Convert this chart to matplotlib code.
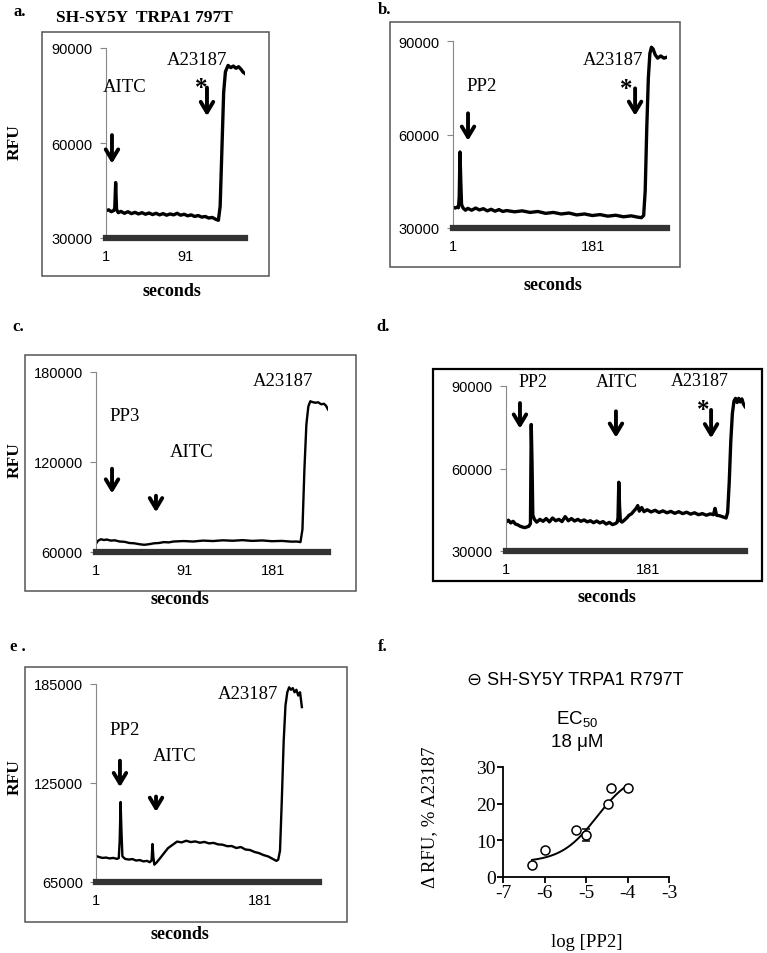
import numpy as np
import matplotlib
matplotlib.use("Agg")
from matplotlib import pyplot as plt
from matplotlib.patches import Rectangle

plt.rcParams['font.family'] = ['Liberation Serif', 'DejaVu Serif']
plt.rcParams['axes.unicode_minus'] = False

W, H = 767, 954

# ---- data (seconds, RFU) ----
a_time = [1, 4, 7, 10, 11, 12, 13, 15, 18, 22, 26, 30, 34, 38, 42, 46, 50, 54, 58, 62, 66, 70, 74,
          78, 82, 86, 90, 94, 98, 102, 106, 110, 114, 118, 122, 126, 129, 131, 133, 135, 137, 140,
          143, 146, 149, 152, 155, 157, 159]
a_rfu = [38600, 38900, 38300, 38700, 39500, 47500, 39000, 38000, 38400, 37800, 38300, 37700, 38100,
         37600, 38000, 37500, 37900, 37400, 37800, 37300, 37700, 37200, 37600, 37300, 37800, 37200,
         37500, 37000, 37300, 36800, 37100, 36600, 36800, 36300, 36500, 35900, 35600, 40000, 58000,
         76000, 82500, 84500, 83800, 84300, 83600, 84100, 83200, 82400, 82000]

b_time = [1, 4, 7, 8, 9, 10, 11, 12, 14, 17, 20, 25, 30, 35, 40, 45, 50, 55, 60, 65, 70, 80, 90, 100,
          110, 120, 130, 140, 150, 160, 170, 180, 190, 200, 210, 220, 230, 238, 243, 246, 248, 250,
          252, 254, 256, 258, 261, 264, 268, 272, 276]
b_rfu = [36700, 36400, 36800, 36500, 40000, 54400, 45000, 37500, 36400, 35700, 36300, 35700, 36400,
         35800, 36200, 35500, 36000, 35400, 35900, 35300, 35600, 35200, 35500, 35000, 35300, 34700,
         35000, 34500, 34800, 34200, 34500, 34000, 34300, 33800, 34100, 33600, 33900, 33500, 33300,
         34000, 42000, 62000, 78000, 86000, 88000, 87500, 85500, 84500, 85200, 84500, 84800]

c_time = [1, 3, 6, 9, 12, 16, 20, 25, 30, 35, 40, 45, 50, 55, 60, 65, 70, 75, 80, 90, 100, 110, 120,
          130, 140, 150, 160, 170, 180, 190, 200, 205, 209, 211, 213, 215, 217, 219, 221, 224, 227,
          230, 233, 235, 237]
c_rfu = [65500, 67500, 68500, 68000, 68300, 67600, 67800, 67000, 66800, 66000, 65800, 65200, 64800,
         65200, 65800, 66000, 66600, 66400, 67000, 67300, 67000, 67600, 67300, 67800, 67500, 67900,
         67400, 67700, 67200, 67400, 66900, 67000, 66600, 75000, 115000, 145000, 157000, 160500,
         160000, 159500, 159800, 158500, 158800, 157500, 155000]

d_time = [1, 4, 7, 10, 13, 16, 19, 22, 25, 28, 30, 32, 33, 34, 35, 37, 40, 44, 48, 52, 56, 60, 64,
          68, 72, 76, 80, 84, 88, 92, 96, 100, 104, 108, 112, 116, 120, 124, 128, 132, 136, 140, 142,
          143, 144, 145, 146, 148, 151, 154, 157, 160, 163, 166, 168, 170, 173, 176, 180, 185, 190,
          195, 200, 205, 210, 215, 220, 225, 230, 235, 240, 245, 250, 255, 260, 264, 266, 268, 272,
          276, 280, 282, 284, 286, 288, 290, 292, 294, 296, 298, 300, 302, 304]
d_rfu = [40500, 41200, 40200, 40800, 39800, 39500, 39000, 38700, 38500, 38800, 39000, 40000, 76000,
         62000, 43000, 41500, 40500, 41500, 40800, 41800, 40600, 42000, 41000, 41500, 40700, 42500,
         41000, 41800, 40900, 41500, 40800, 41300, 40600, 41000, 40300, 40900, 40200, 40700, 39800,
         40400, 39600, 40000, 40500, 42000, 55000, 46000, 41000, 40500, 41200, 42000, 43000, 43500,
         44500, 45500, 46500, 44500, 45800, 44300, 45000, 44200, 44800, 44000, 44600, 43900, 44400,
         43700, 44300, 43600, 44100, 43400, 43900, 43200, 43600, 43000, 43500, 43200, 45500, 43000,
         42800, 42400, 42000, 44000, 55000, 70000, 80000, 84500, 85500, 84000, 85500, 84200, 85300,
         83500, 82500]

e_time = [1, 4, 8, 12, 16, 20, 24, 26, 27, 28, 29, 30, 33, 37, 41, 45, 49, 53, 57, 60, 62, 63, 64,
          65, 67, 70, 75, 80, 85, 90, 95, 100, 105, 110, 115, 120, 125, 130, 135, 140, 145, 150, 155,
          160, 165, 170, 175, 180, 185, 190, 195, 199, 201, 203, 205, 207, 209, 211, 213, 215, 217,
          219, 221, 223, 225, 227]
e_rfu = [80800, 80200, 79600, 79800, 79300, 79600, 79000, 79500, 90000, 113500, 95000, 80500, 79000,
         78600, 78900, 78000, 78300, 77500, 77800, 77000, 78000, 88000, 80000, 75500, 76500, 78500,
         82000, 85500, 87500, 89500, 89000, 90000, 89200, 89600, 88800, 89300, 88400, 88700, 87800,
         87600, 86700, 86800, 85600, 86200, 84700, 84400, 83200, 82500, 81300, 80500, 79000, 77800,
         78500, 84000, 115000, 150000, 172000, 180000, 183000, 181500, 182500, 180000, 181500,
         178000, 180000, 171000]

# ---- dose response (panel f) ----
f_logpp2 = [-6.3, -6.0, -5.24, -5.0, -4.46, -4.4, -4.0]
f_resp = [3.4, 7.4, 12.7, 11.4, 20.0, 24.3, 24.3]
f_err = [0, 0, 0, 1.6, 0, 0, 0]
fit_bottom, fit_top, fit_logec50, fit_hill = 4.0, 28.8, -4.74, 1.0

fig = plt.figure(figsize=(W / 100, H / 100), dpi=100)


def px_axes(x0, y0, x1, y1):
    return fig.add_axes([x0 / W, 1 - y1 / H, (x1 - x0) / W, (y1 - y0) / H])


def ftext(x, y, s, **kw):
    kw.setdefault('ha', 'center')
    kw.setdefault('va', 'center')
    fig.text(x / W, 1 - y / H, s, **kw)


def frame(x0, y0, x1, y1, color='#555555', lw=1.1):
    fig.add_artist(Rectangle((x0 / W, 1 - y1 / H), (x1 - x0) / W, (y1 - y0) / H,
                             transform=fig.transFigure, fill=False, ec=color, lw=lw))


def trace_panel(box, t, rfu, xmax, yticks, xticks, lw=2.4):
    ax = px_axes(*box)
    ax.plot(t, rfu, color='black', lw=lw, solid_joinstyle='round')
    ax.set_xlim(1, xmax)
    ax.set_ylim(yticks[0], yticks[-1])
    ax.set_yticks(yticks)
    ax.set_xticks(xticks)
    ax.set_xticklabels([str(v) for v in xticks])
    ax.set_yticklabels([str(v) for v in yticks])
    ax.spines['top'].set_visible(False)
    ax.spines['right'].set_visible(False)
    ax.spines['left'].set_color('#888888')
    ax.spines['left'].set_linewidth(0.8)
    ax.spines['bottom'].set_color('#333333')
    ax.spines['bottom'].set_linewidth(4.5)
    ax.tick_params(axis='y', length=4.5, width=0.8, color='#888888', pad=5,
                   labelsize=10.5, labelfontfamily='Liberation Sans')
    ax.tick_params(axis='x', length=0, pad=8, labelsize=10.5, labelfontfamily='Liberation Sans')
    ax.patch.set_alpha(0)
    return ax


def drop_arrow(ax, t, y0, y1, hollow=False):
    ax.annotate('', xy=(t, y1), xytext=(t, y0),
                arrowprops=dict(arrowstyle='->, head_length=0.75, head_width=0.45',
                                lw=2.8, color='black', shrinkA=0, shrinkB=0))
    if hollow:
        ax.plot([t, t], [y0, y0 + (y1 - y0) * 0.55], color='#999999', lw=1.0, clip_on=False)


def label(ax, t, y, s, size=13.5):
    ax.text(t, y, s, ha='center', va='center', fontsize=size, clip_on=False)


def star(ax, t, y):
    ax.text(t, y, '*', ha='center', va='center', fontsize=18, fontweight='bold', clip_on=False)


# ---- panel a ----
frame(42, 33, 269, 277)
ax = trace_panel((106, 49, 245, 239), a_time, a_rfu, 159.3, [30000, 60000, 90000], [1, 91])
label(ax, 22, 78000, 'AITC')
drop_arrow(ax, 7.8, 62500, 53500)
label(ax, 104.5, 86500, 'A23187')
star(ax, 109, 77500)
drop_arrow(ax, 116, 77500, 68500, hollow=True)
ftext(20, 12, 'a.', fontsize=12, fontweight='bold')
ftext(144, 18, 'SH-SY5Y  TRPA1 797T', fontsize=12.5, fontweight='bold')
ftext(15, 142, 'RFU', fontsize=12.5, fontweight='bold', rotation=90)
ftext(172, 292, 'seconds', fontsize=13, fontweight='bold')

# ---- panel b ----
frame(390, 23, 680, 268)
ax = trace_panel((453, 42, 667, 229), b_time, b_rfu, 276, [30000, 60000, 90000], [1, 181])
label(ax, 38, 75600, 'PP2')
drop_arrow(ax, 20.3, 66800, 58000)
label(ax, 206.6, 84200, 'A23187')
star(ax, 223, 74800)
drop_arrow(ax, 235, 74800, 66000, hollow=True)
ftext(385, 10, 'b.', fontsize=12, fontweight='bold')
ftext(553, 285, 'seconds', fontsize=13, fontweight='bold')

# ---- panel c ----
frame(25, 356, 356, 592)
ax = trace_panel((96, 373, 328, 553), c_time, c_rfu, 237, [60000, 120000, 180000], [1, 91, 181],
                 lw=1.7)
label(ax, 30.5, 150700, 'PP3')
drop_arrow(ax, 17.3, 115500, 99000)
label(ax, 98.7, 126700, 'AITC')
drop_arrow(ax, 62, 97500, 86500)
label(ax, 191, 174000, 'A23187')
ftext(18, 327, 'c.', fontsize=12, fontweight='bold')
ftext(15, 460, 'RFU', fontsize=12.5, fontweight='bold', rotation=90)
ftext(180, 599, 'seconds', fontsize=13, fontweight='bold')

# ---- panel d ----
frame(433, 370, 762, 582, color='black', lw=1.6)
ax = trace_panel((506, 387, 745, 552), d_time, d_rfu, 304, [30000, 60000, 90000], [1, 181])
label(ax, 35, 91500, 'PP2', size=13)
drop_arrow(ax, 18.7, 83800, 74500)
label(ax, 141.7, 91500, 'AITC', size=13)
drop_arrow(ax, 140.4, 80800, 71200)
label(ax, 247, 91900, 'A23187', size=13)
star(ax, 251, 81300)
drop_arrow(ax, 261, 81300, 71000, hollow=True)
ftext(383, 327, 'd.', fontsize=12, fontweight='bold')
ftext(607, 598, 'seconds', fontsize=13, fontweight='bold')

# ---- panel e ----
frame(25, 668, 347, 923)
ax = trace_panel((96, 685, 319, 883), e_time, e_rfu, 245.8, [65000, 125000, 185000], [1, 181],
                 lw=1.7)
label(ax, 32.8, 157700, 'PP2')
drop_arrow(ax, 27.3, 138500, 122500)
label(ax, 87.7, 141400, 'AITC')
drop_arrow(ax, 66.9, 116800, 107500)
label(ax, 167.8, 179000, 'A23187')
ftext(18, 647, 'e .', fontsize=12, fontweight='bold')
ftext(15, 777, 'RFU', fontsize=12.5, fontweight='bold', rotation=90)
ftext(180, 935, 'seconds', fontsize=13, fontweight='bold')

# ---- panel f ----
ax = px_axes(503, 768, 669, 878)
xs = np.linspace(min(f_logpp2), max(f_logpp2), 200)
fit = fit_bottom + (fit_top - fit_bottom) / (1 + 10 ** ((fit_logec50 - xs) * fit_hill))
ax.plot(xs, fit, color='black', lw=1.4)
ax.errorbar(f_logpp2, f_resp, yerr=f_err, fmt='o', ms=6.5, mfc='white', mec='black', mew=1.1,
            ecolor='black', elinewidth=1.1, capsize=3)
ax.set_xlim(-7, -3)
ax.set_ylim(0, 30)
ax.set_xticks([-7, -6, -5, -4, -3])
ax.set_yticks([0, 10, 20, 30])
ax.spines['top'].set_visible(False)
ax.spines['right'].set_visible(False)
for s in ['left', 'bottom']:
    ax.spines[s].set_linewidth(1.3)
ax.tick_params(length=4, width=1.3, labelsize=14, pad=1)
ax.patch.set_alpha(0)
ftext(383, 647, 'f.', fontsize=12, fontweight='bold')
ftext(575, 680, '\u2296 SH-SY5Y TRPA1 R797T', fontsize=13, family=['Liberation Sans', 'DejaVu Sans'])
ftext(577, 720, r'EC$_{\mathregular{50}}$', fontsize=13.5, family='Liberation Sans')
ftext(577, 743, '18 \u03bcM', fontsize=13.5, family='Liberation Sans')
ftext(430, 817, '\u0394 RFU, % A23187', fontsize=13.5, rotation=90)
ftext(587, 943, 'log [PP2]', fontsize=13.5)

fig.savefig('out.png', dpi=100)
